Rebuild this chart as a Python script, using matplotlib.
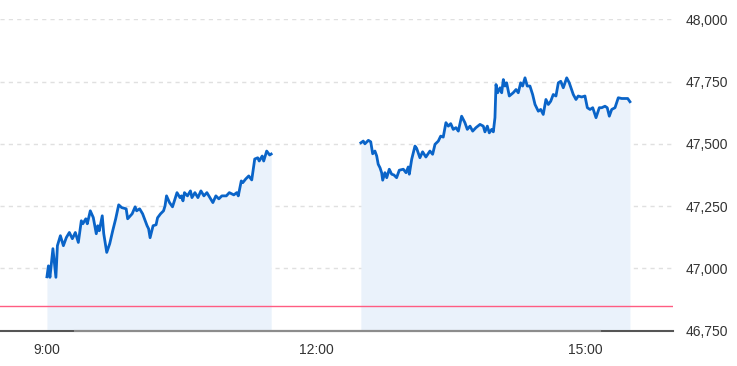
"""
plot.py  ---  intraday index chart (morning / afternoon sessions, prev close line).
"""
import matplotlib
matplotlib.use("Agg")
import matplotlib.pyplot as plt

# minutes after 9:00 and index level
AM_MIN = [0, 1, 2, 4, 6, 7, 9, 11, 13, 15,
          17, 19, 21, 23, 24, 26, 27, 29, 31, 33,
          34, 35, 37, 38, 40, 42, 44, 46, 48, 50,
          53, 54, 57, 59, 60, 62, 64, 67, 68, 69,
          71, 73, 74, 76, 78, 79, 80, 82, 84, 87,
          89, 90, 91, 92, 94, 96, 97, 99, 101, 103,
          105, 107, 109, 111, 113, 115, 117, 120, 122, 125,
          127, 128, 130, 131, 133, 135, 137, 139, 141, 142,
          144, 145, 147, 149, 150]
AM_VAL = [46966, 47010, 46964, 47079, 46964, 47091, 47131, 47091, 47124, 47144,
          47119, 47144, 47104, 47191, 47179, 47199, 47179, 47231, 47204, 47139,
          47171, 47151, 47211, 47139, 47064, 47099, 47151, 47199, 47255, 47244,
          47239, 47199, 47219, 47247, 47231, 47239, 47219, 47171, 47159, 47123,
          47171, 47175, 47203, 47219, 47231, 47251, 47291, 47264, 47247, 47304,
          47284, 47291, 47271, 47304, 47291, 47311, 47284, 47304, 47284, 47311,
          47291, 47304, 47284, 47264, 47291, 47279, 47291, 47291, 47304, 47295,
          47304, 47291, 47351, 47344, 47359, 47371, 47355, 47439, 47444, 47431,
          47451, 47431, 47471, 47455, 47459]

PM_MIN = [210, 211.6, 212.7, 215, 216.6, 217.9, 219.4, 220.6, 221.6, 222.8,
          223.9, 224.6, 226.1, 227.3, 229, 230.6, 232.1, 233.9, 235.7, 238.4,
          240.2, 241.7, 242.4, 244, 246.2, 247.3, 249.5, 251.3, 253.5, 256.2,
          258, 259.6, 261.8, 263.4, 265.1, 266.9, 268.5, 270.1, 271.8, 273.6,
          275.2, 277.4, 279.6, 281.2, 283, 284.8, 287, 289.7, 291.9, 293,
          294.6, 295.9, 297.5, 298.6, 299.7, 300.4, 301.5, 303.1, 304.2, 305.3,
          306.4, 307.5, 309.3, 311.9, 313.8, 315.3, 316.9, 318.2, 319.8, 321.3,
          323.1, 324.9, 326.5, 328.7, 330.3, 332, 333.8, 335.4, 337, 338.7,
          340.5, 342.1, 343.7, 345.4, 347.7, 349.4, 352.1, 353.9, 355.4, 357.7,
          359.9, 361.5, 363.3, 365.1, 367.3, 369.5, 371.1, 373.3, 374.8, 376.2,
          377.8, 380, 382.2, 384.5, 386.7, 388.5, 390]
PM_VAL = [47504, 47511, 47500, 47514, 47508, 47460, 47471, 47451, 47418, 47404,
          47384, 47354, 47384, 47364, 47398, 47378, 47375, 47364, 47394, 47398,
          47384, 47407, 47378, 47438, 47491, 47482, 47444, 47468, 47447, 47471,
          47458, 47498, 47511, 47531, 47527, 47585, 47571, 47581, 47558, 47565,
          47551, 47611, 47585, 47558, 47571, 47551, 47565, 47578, 47571, 47548,
          47571, 47544, 47558, 47548, 47605, 47738, 47705, 47725, 47705, 47758,
          47732, 47745, 47692, 47705, 47718, 47705, 47745, 47732, 47765, 47732,
          47732, 47698, 47658, 47631, 47638, 47618, 47678, 47658, 47671, 47698,
          47692, 47745, 47751, 47725, 47765, 47745, 47698, 47678, 47692, 47688,
          47692, 47645, 47638, 47645, 47605, 47645, 47645, 47651, 47645, 47611,
          47638, 47645, 47685, 47682, 47682, 47682, 47669]

PREV_CLOSE = 46848
Y_TICKS  = [46750, 47000, 47250, 47500, 47750, 48000]
X_TICKS  = [0, 180, 360]
X_LABELS = ["9:00", "12:00", "15:00"]

LINE = "#0a64c8"
FILL = "#eaf2fb"
TXT  = "#333333"

plt.rcParams["font.family"] = ["Liberation Sans", "DejaVu Sans"]

fig = plt.figure(figsize=(7.37, 3.66), dpi=100)
ax = fig.add_axes([0, (366 - 330.6) / 366, 673 / 737, (330.6 - 19.3) / 366])
ax.set_xlim(-31.4, 418.8)
ax.set_ylim(46750, 48000)

for t in Y_TICKS[1:]:
    ax.axhline(t, color="#e0e0e0", lw=1, ls=(0, (3, 3)), zorder=1)

for xs, ys in ((AM_MIN, AM_VAL), (PM_MIN, PM_VAL)):
    ax.fill_between(xs, ys, 46750, color=FILL, lw=0, zorder=2)
    ax.plot(xs, ys, color=LINE, lw=2.0, solid_joinstyle="round", zorder=4)

ax.axhline(PREV_CLOSE, color="#ff5c82", lw=1, zorder=3)
ax.axhline(46750, color="#555555", lw=1.5, zorder=5, clip_on=False)
ax.plot([19, 370], [46750, 46750], color="#8c8c8c", lw=1.5, zorder=6, clip_on=False)

for s in ax.spines.values():
    s.set_visible(False)
ax.yaxis.tick_right()
ax.set_yticks(Y_TICKS)
ax.set_yticklabels([f"{v:,}" for v in Y_TICKS])
ax.set_xticks(X_TICKS)
ax.set_xticklabels(X_LABELS)
ax.tick_params(axis="y", length=0, pad=9, labelsize=10, labelcolor=TXT)
ax.tick_params(axis="x", length=0, pad=9, labelsize=10, labelcolor=TXT)

fig.savefig("out.png", dpi=100)
